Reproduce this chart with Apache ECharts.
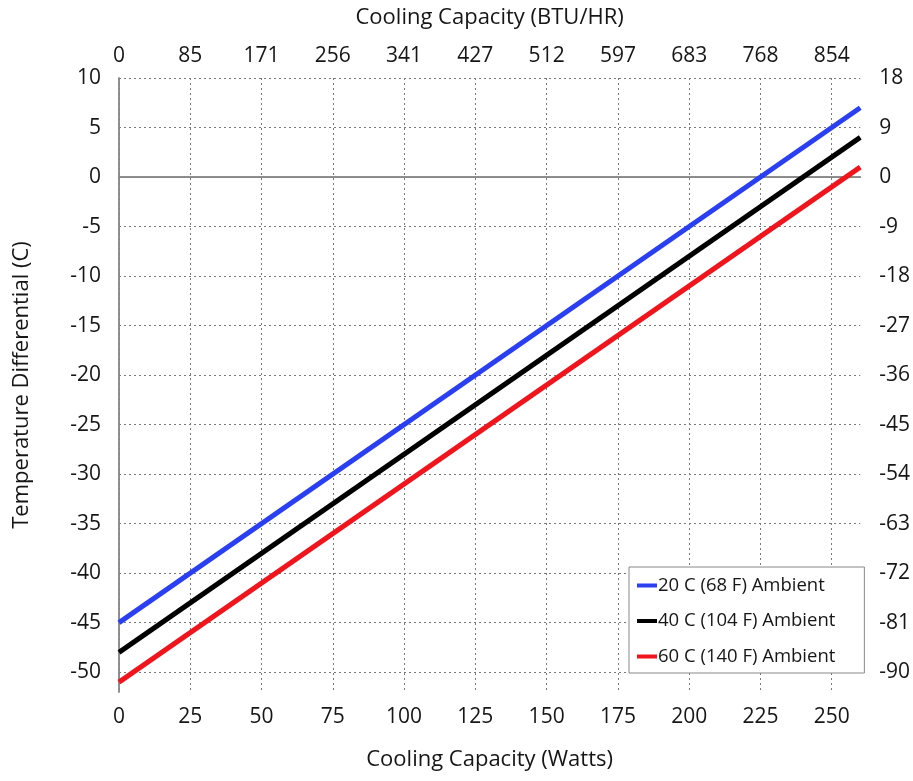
<!DOCTYPE html>
<html>
<head>
<meta charset="utf-8">
<script src="https://cdn.jsdelivr.net/npm/echarts@6/dist/echarts.min.js"></script>
<style>
html,body{margin:0;padding:0;background:#fff;}
#chart{width:913px;height:781px;}
</style>
</head>
<body>
<div id="chart"></div>
<script>
// Data
var wattsX = [0, 260];
var ambient20 = [-45, 7];
var ambient40 = [-48, 4];
var ambient60 = [-51, 1];
var seriesNames = ['20 C (68 F) Ambient', '40 C (104 F) Ambient', '60 C (140 F) Ambient'];
var wattTicks = [0, 25, 50, 75, 100, 125, 150, 175, 200, 225, 250];
var btuLabels = ['0', '85', '171', '256', '341', '427', '512', '597', '683', '768', '854'];
var celsiusTicks = [10, 5, 0, -5, -10, -15, -20, -25, -30, -35, -40, -45, -50];
var fahrenheitLabels = ['18', '9', '0', '-9', '-18', '-27', '-36', '-45', '-54', '-63', '-72', '-81', '-90'];

var FONT = 'Open Sans';
var TXT = '#161616';

function pairs(xs, ys) { return xs.map(function (x, i) { return [x, ys[i]]; }); }

var chart = echarts.init(document.getElementById('chart'));
var gridLine = { show: true, lineStyle: { color: '#7a7a7a', type: [2, 3], width: 1 } };
var axisLine = { show: true, lineStyle: { color: '#888', width: 1.5 } };

chart.setOption({
  animation: false,
  backgroundColor: '#fff',
  grid: { left: 119, right: 51, top: 78, bottom: 89, containLabel: false },
  legend: {
    orient: 'vertical',
    left: 629, top: 567,
    padding: [9, 29, 7, 8],
    itemGap: 16.5,
    itemWidth: 20, itemHeight: 4,
    icon: 'rect',
    backgroundColor: '#fff',
    borderColor: '#888', borderWidth: 1, borderRadius: 0,
    textStyle: { fontFamily: FONT, fontSize: 18.5, color: TXT, padding: [0, 0, 0, -4] },
    data: seriesNames
  },
  xAxis: [
    {
      type: 'value', position: 'bottom', min: 0, max: 260,
      name: 'Cooling Capacity (Watts)', nameLocation: 'middle', nameGap: 57,
      nameTextStyle: { fontFamily: FONT, fontSize: 22, color: TXT },
      axisLine: axisLine,
      axisTick: { show: false, customValues: wattTicks },
      axisLabel: { fontFamily: FONT, fontSize: 21, color: TXT, margin: 15, customValues: wattTicks },
      splitLine: gridLine
    },
    {
      type: 'value', position: 'top', min: 0, max: 260,
      name: 'Cooling Capacity (BTU/HR)', nameLocation: 'middle', nameGap: 49,
      nameTextStyle: { fontFamily: FONT, fontSize: 22, color: TXT },
      axisLine: axisLine,
      axisTick: { show: false, customValues: wattTicks },
      axisLabel: { fontFamily: FONT, fontSize: 21, color: TXT, margin: 11, customValues: wattTicks,
        formatter: function (v) { var i = wattTicks.indexOf(v); return i >= 0 ? btuLabels[i] : ''; } },
      splitLine: { show: false }
    }
  ],
  yAxis: [
    {
      type: 'value', position: 'left', min: -52, max: 10,
      name: 'Temperature Differential (C)', nameLocation: 'middle', nameGap: 86, nameRotate: 90,
      nameTextStyle: { fontFamily: FONT, fontSize: 22, color: TXT },
      axisLine: axisLine,
      axisTick: { show: false, customValues: celsiusTicks },
      axisLabel: { fontFamily: FONT, fontSize: 21, color: TXT, margin: 18, customValues: celsiusTicks },
      splitLine: gridLine
    },
    {
      type: 'value', position: 'right', min: -52, max: 10,
      axisLine: axisLine,
      axisTick: { show: false, customValues: celsiusTicks },
      axisLabel: { fontFamily: FONT, fontSize: 21, color: TXT, margin: 19, customValues: celsiusTicks,
        formatter: function (v) { var i = celsiusTicks.indexOf(v); return i >= 0 ? fahrenheitLabels[i] : ''; } },
      splitLine: { show: false }
    }
  ],
  series: [
    {
      name: seriesNames[0], type: 'line', data: pairs(wattsX, ambient20), showSymbol: false, symbol: 'none',
      lineStyle: { color: '#2a3ff2', width: 5 }, itemStyle: { color: '#2a3ff2' }, z: 5,
      markLine: { silent: true, symbol: 'none', label: { show: false },
        lineStyle: { color: '#888', type: 'solid', width: 1.2 }, data: [{ yAxis: 0 }], z: 1 }
    },
    {
      name: seriesNames[1], type: 'line', data: pairs(wattsX, ambient40), showSymbol: false, symbol: 'none',
      lineStyle: { color: '#000', width: 5 }, itemStyle: { color: '#000' }, z: 5
    },
    {
      name: seriesNames[2], type: 'line', data: pairs(wattsX, ambient60), showSymbol: false, symbol: 'none',
      lineStyle: { color: '#f0141c', width: 5 }, itemStyle: { color: '#f0141c' }, z: 5
    }
  ]
});
</script>
</body>
</html>
